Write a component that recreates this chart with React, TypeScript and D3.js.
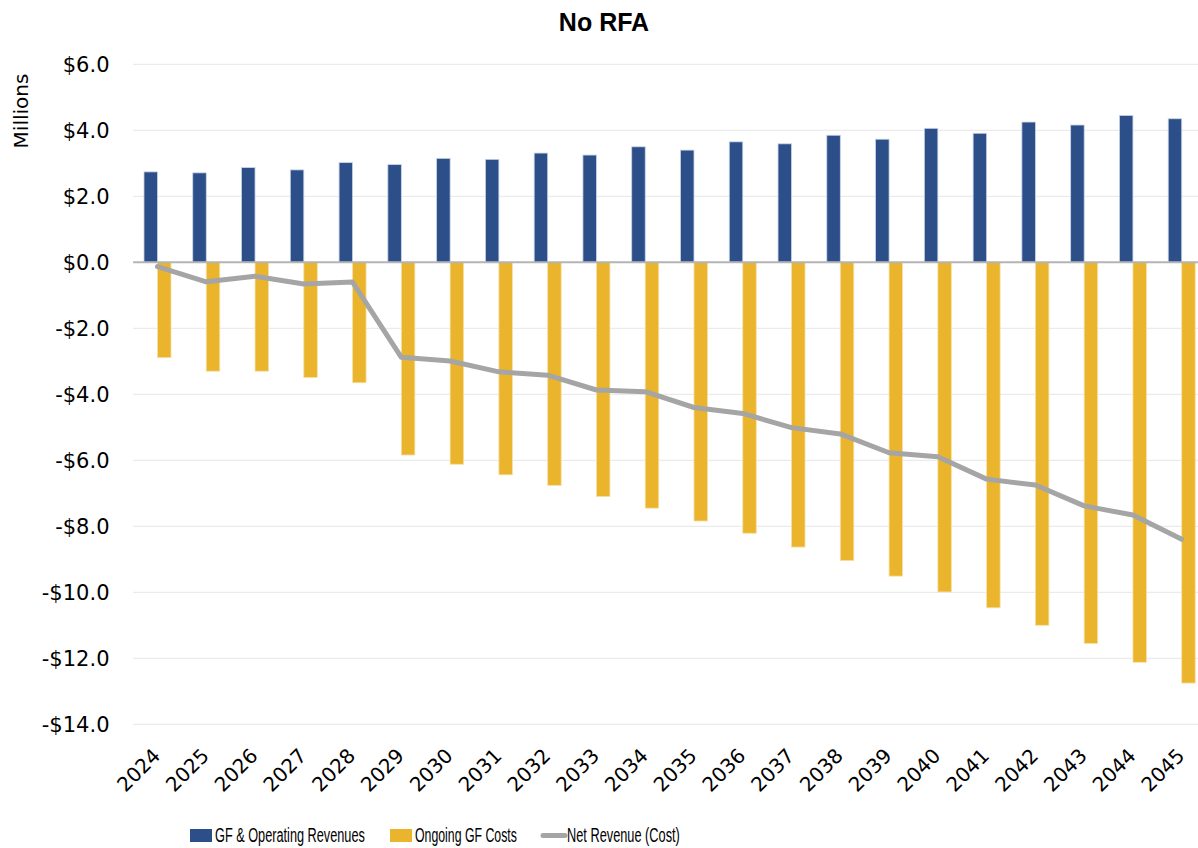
import React, { useLayoutEffect, useRef } from "react";
import * as d3 from "d3";

// Fiscal years shown along the category axis
const years: string[] = [
  "2024", "2025", "2026", "2027", "2028", "2029", "2030", "2031", "2032", "2033", "2034",
  "2035", "2036", "2037", "2038", "2039", "2040", "2041", "2042", "2043", "2044", "2045",
];

// $ millions
const revenues: number[] = [
  2.74, 2.71, 2.87, 2.80, 3.02, 2.96, 3.15, 3.12, 3.31, 3.25, 3.50,
  3.40, 3.65, 3.59, 3.85, 3.73, 4.06, 3.91, 4.25, 4.16, 4.45, 4.35,
];
const costs: number[] = [
  -2.89, -3.30, -3.30, -3.49, -3.65, -5.84, -6.12, -6.44, -6.76, -7.10, -7.45,
  -7.84, -8.21, -8.63, -9.04, -9.51, -9.99, -10.47, -11.00, -11.55, -12.12, -12.75,
];
const netRevenue: number[] = [
  -0.13, -0.59, -0.42, -0.66, -0.60, -2.88, -2.99, -3.32, -3.42, -3.87, -3.92,
  -4.40, -4.58, -5.01, -5.20, -5.77, -5.89, -6.57, -6.75, -7.38, -7.66, -8.39,
];

const yTicks: number[] = [6, 4, 2, 0, -2, -4, -6, -8, -10, -12, -14];

const seriesNames = ["GF & Operating Revenues", "Ongoing GF Costs", "Net Revenue (Cost)"];

const BLUE = "#2C4F8A";
const GOLD = "#EAB52C";
const GREY = "#A5A5A5";

const W = 1198;
const H = 848;

// legend entries: swatch start, text start and the condensed width of the text
const legendItems = [
  { name: seriesNames[0], swatchX: 190, textX: 215, width: 150, kind: "bar", color: BLUE },
  { name: seriesNames[1], swatchX: 390, textX: 415, width: 102, kind: "bar", color: GOLD },
  { name: seriesNames[2], swatchX: 543, textX: 567, width: 113, kind: "line", color: GREY },
];

function CondensedText({ x, y, width, children }: { x: number; y: number; width: number; children: string }) {
  const ref = useRef<SVGTextElement>(null);
  useLayoutEffect(() => {
    const el = ref.current;
    if (!el) return;
    const natural = el.getComputedTextLength();
    const k = natural > 0 ? width / natural : 1;
    el.setAttribute("transform", `translate(${x},${y}) scale(${k},1)`);
  }, [x, y, width, children]);
  return (
    <text
      ref={ref}
      transform={`translate(${x},${y})`}
      fontFamily="'Liberation Sans', Arial, sans-serif"
      fontSize={20}
      fill="#000"
    >
      {children}
    </text>
  );
}

export default function App() {
  const x = d3.scaleBand<string>().domain(years).range([133.1, 1206.1]).padding(0);
  const y = d3.scaleLinear().domain([-14, 6]).range([724.3, 64.3]);
  const barW = 13.5;
  const center = (yr: string) => (x(yr) as number) + x.bandwidth() / 2;

  const fmt = (v: number) => (v < 0 ? "-$" : "$") + Math.abs(v).toFixed(1);

  const line = d3
    .line<number>()
    .x((_, i) => center(years[i]))
    .y((d) => y(d));

  const tickFont = "'DejaVu Sans', sans-serif";

  return (
    <svg
      width={W}
      height={H}
      style={{ position: "absolute", left: 0, top: 0, background: "#fff" }}
    >
      <rect x={0} y={0} width={W} height={H} fill="#fff" />
      <text
        x={604}
        y={31}
        textAnchor="middle"
        fontFamily="'Liberation Sans', Arial, sans-serif"
        fontWeight="bold"
        fontSize={25}
        fill="#000"
      >
        No RFA
      </text>

      {/* horizontal gridlines */}
      {yTicks
        .filter((t) => t !== 0)
        .map((t) => (
          <line key={t} x1={133.1} x2={W} y1={y(t)} y2={y(t)} stroke="#EBEBEB" strokeWidth={1.3} />
        ))}

      {/* y-axis labels */}
      {yTicks.map((t) => (
        <text
          key={"l" + t}
          x={109.5}
          y={y(t)}
          dy="0.36em"
          textAnchor="end"
          fontFamily={tickFont}
          fontSize={21}
          fill="#000"
        >
          {fmt(t)}
        </text>
      ))}

      <text
        transform={`translate(28,111) rotate(-90)`}
        textAnchor="middle"
        fontFamily={tickFont}
        fontSize={20}
        fill="#000"
      >
        Millions
      </text>

      {/* revenue bars */}
      {years.map((yr, i) => (
        <rect
          key={"r" + yr}
          x={center(yr) - barW}
          y={y(revenues[i])}
          width={barW}
          height={y(0) - y(revenues[i])}
          fill={BLUE}
          stroke="#C9D3E3"
          strokeWidth={0.8}
        />
      ))}

      {/* cost bars */}
      {years.map((yr, i) => (
        <rect
          key={"c" + yr}
          x={center(yr)}
          y={y(0)}
          width={barW}
          height={y(costs[i]) - y(0)}
          fill={GOLD}
          stroke="#F6E0A6"
          strokeWidth={0.8}
        />
      ))}

      {/* zero axis */}
      <line x1={133.1} x2={W} y1={y(0)} y2={y(0)} stroke="#B4B4B4" strokeWidth={2} />

      {/* net revenue line */}
      <path
        d={line(netRevenue) || ""}
        fill="none"
        stroke={GREY}
        strokeWidth={5}
        strokeLinejoin="round"
        strokeLinecap="round"
      />

      {/* category labels */}
      {years.map((yr) => (
        <text
          key={"x" + yr}
          transform={`translate(${center(yr) + 4},757) rotate(-45)`}
          textAnchor="end"
          fontFamily={tickFont}
          fontSize={20}
          fill="#000"
        >
          {yr}
        </text>
      ))}

      {/* legend */}
      {legendItems.map((it) => (
        <g key={it.name}>
          {it.kind === "bar" ? (
            <rect x={it.swatchX} y={829} width={22} height={13} fill={it.color} />
          ) : (
            <line
              x1={it.swatchX}
              x2={it.swatchX + 22}
              y1={835.5}
              y2={835.5}
              stroke={it.color}
              strokeWidth={5}
              strokeLinecap="round"
            />
          )}
          <CondensedText x={it.textX} y={842} width={it.width}>
            {it.name}
          </CondensedText>
        </g>
      ))}
    </svg>
  );
}
